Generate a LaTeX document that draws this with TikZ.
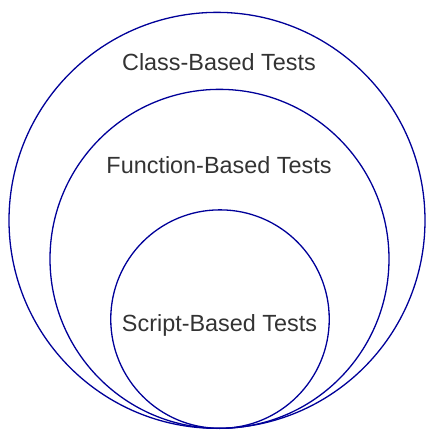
\documentclass[tikz,border=0pt]{standalone}
\usepackage{fontspec}
\setmainfont{Liberation Sans}
\usetikzlibrary{positioning}
\definecolor{ringblue}{RGB}{0,0,153}
\definecolor{textgray}{RGB}{51,51,51}
\tikzset{
  ring/.style={draw=ringblue, line width=1.3pt, circle, inner sep=0pt, anchor=south},
  ringlabel/.style={text=textgray, font=\fontsize{23.4}{28}\selectfont, anchor=base, inner sep=0pt}
}
\begin{document}
\begin{tikzpicture}[x=1pt, y=-1pt]
            \useasboundingbox (0,0) rectangle (427,432);
            \node (classring) [ring, minimum size=416pt] at (217,429) {};
            \node (funcring) [ring, minimum size=339pt] at (219.5,429) {};
            \node (scriptring) [ring, minimum size=218.5pt] at (220,429) {};

            \node (classlabel) [ringlabel] at (219,70) {Class-Based Tests};
            \node (funclabel) [ringlabel] at (219,173) {Function-Based Tests};
            \node (scriptlabel) [ringlabel] at (219.5,331) {Script-Based Tests};
        \end{tikzpicture}
\end{document}
